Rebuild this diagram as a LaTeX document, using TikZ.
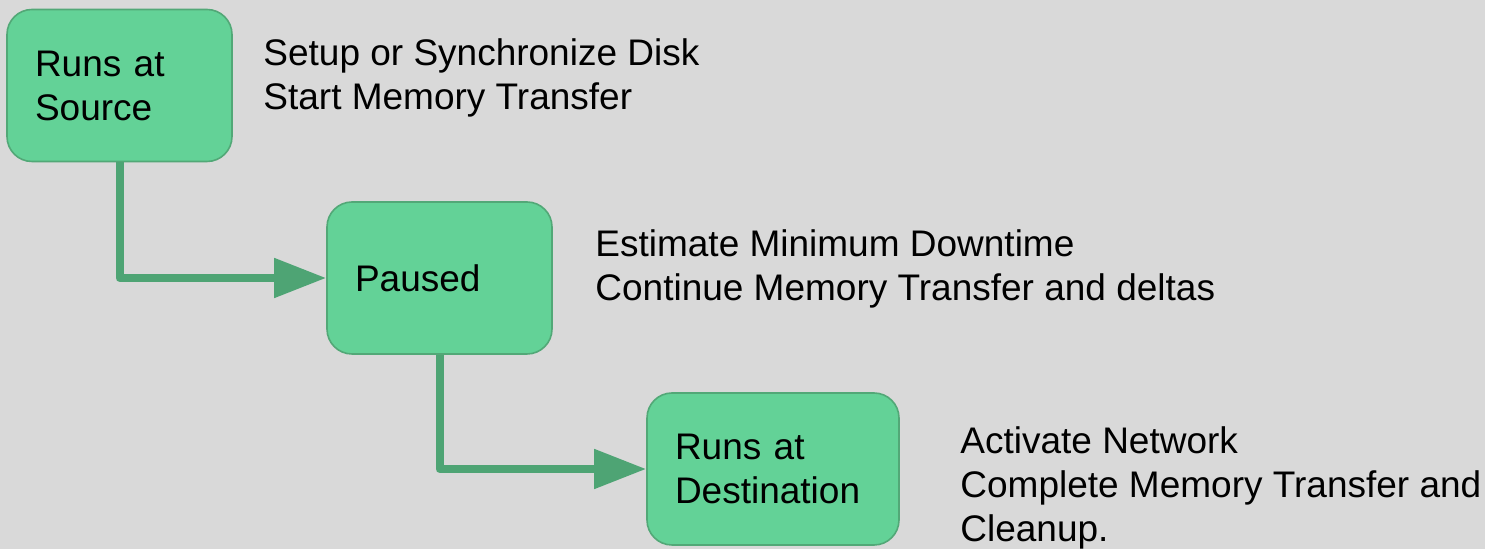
\documentclass[tikz,border=0pt]{standalone}
\usepackage{fontspec}
\setmainfont{Liberation Sans}
\usetikzlibrary{arrows.meta}
\definecolor{bggray}{HTML}{D9D9D9}
\definecolor{boxgreen}{HTML}{63D297}
\definecolor{boxedge}{HTML}{52A877}
\definecolor{flowgreen}{HTML}{4EA474}
\tikzset{
	stage/.style={draw=boxedge, line width=0.8pt, fill=boxgreen, rounded corners=12.5pt,
		minimum height=76pt, inner xsep=14pt, align=left, font=\fontsize{18.5}{22}\selectfont},
	note/.style={anchor=base west, inner sep=0pt, align=left, font=\fontsize{18.5}{22}\selectfont},
	flow/.style={draw=flowgreen, line width=4pt, line join=round,
		-{Triangle[length=26pt,width=19pt]}}
}

\begin{document}
\begin{tikzpicture}[x=0.5pt, y=-0.5pt]
		%%%%% START %%%%%
		
		\fill[bggray] (0, 0) rectangle (1485, 549);
		\useasboundingbox (0, 0) rectangle (1485, 549);
		
		\node[stage, minimum width=112.5pt, text width=84.5pt] (src) at (119.5, 85.5) {Runs at\\Source};
		\node[stage, minimum width=112.5pt, text width=84.5pt] (paused) at (439.5, 278) {Paused};
		\node[stage, minimum width=126pt, text width=98pt] (dst) at (773, 469) {Runs at\\Destination};
		
		% anchored on the baseline of the last line
		\node[note] (srcnote) at (263, 110) {Setup or Synchronize Disk\\Start Memory Transfer};
		\node[note] (pausednote) at (595, 301) {Estimate Minimum Downtime\\Continue Memory Transfer and deltas};
		\node[note] (dstnote) at (960, 542) {Activate Network\\Complete Memory Transfer and\\Cleanup.};
		
		\draw[flow] (src.south) |- (paused.west);
		\draw[flow] (paused.south) |- (dst.west);
		
		%%%%% END %%%%%
	\end{tikzpicture}
\end{document}
